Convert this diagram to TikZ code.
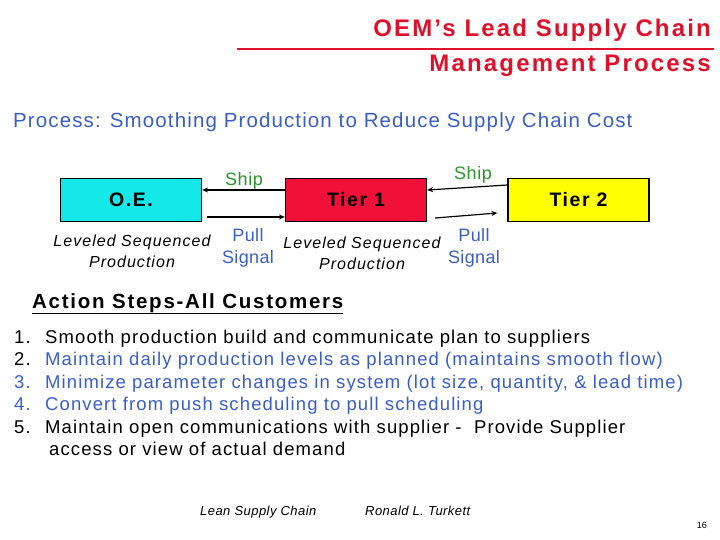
\documentclass[tikz,border=0pt]{standalone}
\usepackage{fontspec}
\setmainfont{Liberation Sans}
\usetikzlibrary{arrows.meta}
\definecolor{titlered}{RGB}{222,16,42}
\definecolor{txtblue}{RGB}{58,94,200}
\definecolor{shipgreen}{RGB}{40,150,40}
\definecolor{oecyan}{RGB}{20,232,232}
\definecolor{tierred}{RGB}{240,16,56}
\definecolor{tieryellow}{RGB}{255,255,0}
\newcommand{\ls}[1]{\addfontfeatures{LetterSpace=#1}}
\begin{document}
\begin{tikzpicture}[x=1pt,y=-1pt,
  boxnode/.style={draw=black,line width=1.2pt,minimum width=141pt,minimum height=43pt,inner sep=0pt,
    font=\fontsize{19.5}{20}\selectfont\bfseries\ls{8}},
  flow/.style={line width=1.2pt,-{Stealth[length=6pt,width=5pt]}},
  shiplbl/.style={text=shipgreen,font=\fontsize{18}{20}\selectfont\ls{3},inner sep=0pt},
  pulllbl/.style={text=txtblue,font=\fontsize{18}{22}\selectfont\ls{2},align=center,inner sep=0pt},
  lvllbl/.style={font=\fontsize{16}{21}\selectfont\itshape\ls{6.5},align=center,inner sep=0pt},
  listnum/.style={anchor=base west,inner sep=0pt,font=\fontsize{18.5}{22}\selectfont\ls{6}},
  listtxt/.style={anchor=base west,inner sep=0pt,font=\fontsize{18.5}{22}\selectfont\ls{6}},
  foot/.style={anchor=base west,inner sep=0pt,font=\fontsize{13}{15}\selectfont\itshape\ls{3.5}}]
\useasboundingbox (0,0) rectangle (720,540);
% title
\node[anchor=base east,inner sep=0pt,text=titlered,font=\fontsize{24}{28}\selectfont\bfseries\ls{9}] (t1) at (711,37) {OEM’s Lead Supply Chain};
\node[anchor=base east,inner sep=0pt,text=titlered,font=\fontsize{24}{28}\selectfont\bfseries\ls{9}] (t2) at (711,72) {Management Process};
\coordinate (rl1) at (237,49);
\coordinate (rl2) at (714,49);
\draw[titlered,line width=1.5pt] (rl1) -- (rl2);
\node[anchor=base west,inner sep=0pt,text=txtblue,font=\fontsize{20.5}{24}\selectfont\ls{5.5}] (proc) at (13,128) {Process: Smoothing Production to Reduce Supply Chain Cost};
% boxes
\node[boxnode,fill=oecyan] (oe) at (131,200) {O.E.};
\node[boxnode,fill=tierred] (t1b) at (356,200) {Tier 1};
\node[boxnode,fill=tieryellow] (t2b) at (578.5,200) {Tier 2};
% arrows
\draw[flow] (t1b.west |- 0,190) -- (oe.east |- 0,190);
\draw[flow] ([xshift=5pt]oe.east |- 0,217) -- (t1b.west |- 0,217);
\draw[flow] (t2b.west |- 0,185) -- (t1b.east |- 0,190);
\draw[flow] ([xshift=8pt]t1b.east |- 0,218) -- ([xshift=-10pt]t2b.west |- 0,213);
% labels
\node[shiplbl] (s1) at (244,181) {Ship};
\node[shiplbl] (s2) at (473,175) {Ship};
\node[pulllbl] (p1) at (248,248) {Pull\\Signal};
\node[pulllbl] (p2) at (474,248) {Pull\\Signal};
\node[lvllbl] (l1) at (132,251) {Leveled Sequenced\\Production};
\node[lvllbl] (l2) at (362,253) {Leveled Sequenced\\Production};
% action steps
\node[anchor=base west,inner sep=0pt,font=\fontsize{20.5}{24}\selectfont\bfseries\ls{8.5}] (act) at (32,308) {\underline{Action Steps-All Customers}};
\node[listnum] (n1) at (14,343) {1.};
\node[listtxt] (i1) at (45,343) {Smooth production build and communicate plan to suppliers};
\node[listnum] (n2) at (14,365) {2.};
\node[listtxt,text=txtblue] (i2) at (45,365) {Maintain daily production levels as planned (maintains smooth flow)};
\node[listnum,text=txtblue] (n3) at (14,388) {3.};
\node[listtxt,text=txtblue] (i3) at (45,388) {Minimize parameter changes in system (lot size, quantity, \& lead time)};
\node[listnum,text=txtblue] (n4) at (14,410) {4.};
\node[listtxt,text=txtblue] (i4) at (45,410) {Convert from push scheduling to pull scheduling};
\node[listnum] (n5) at (14,433) {5.};
\node[listtxt] (i5) at (45,433) {Maintain open communications with supplier -\ \ Provide Supplier};
\node[listtxt] (i6) at (49,455) {access or view of actual demand};
% footer
\node[foot] (f1) at (200,515) {Lean Supply Chain};
\node[foot] (f2) at (365,515) {Ronald L. Turkett};
\node[anchor=base east,inner sep=0pt,font=\fontsize{9}{10}\selectfont] (pg) at (707,528) {16};
\end{tikzpicture}
\end{document}
